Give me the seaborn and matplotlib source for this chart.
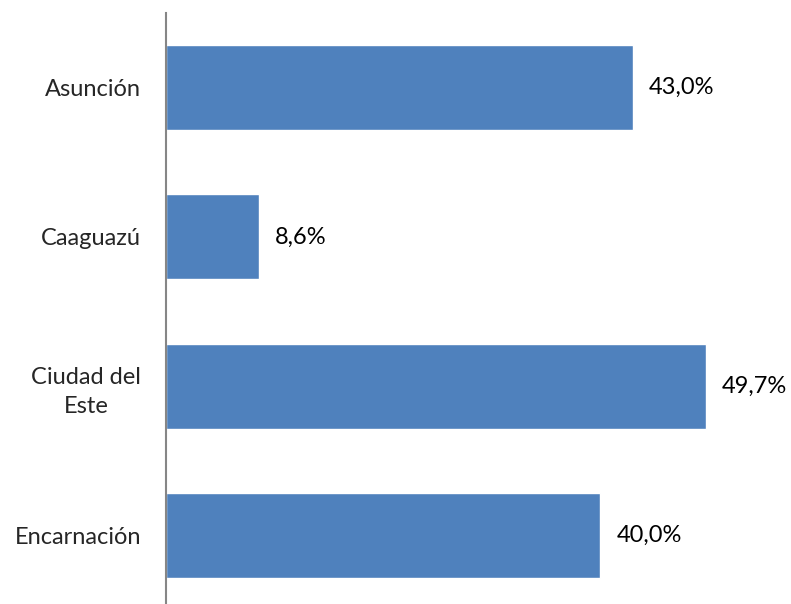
import matplotlib
matplotlib.use("Agg")
import matplotlib.pyplot as plt
import seaborn as sns
import pandas as pd

cities = ["Asunción", "Caaguazú", "Ciudad del\nEste", "Encarnación"]
shares = [43.0, 8.6, 49.7, 40.0]
value_labels = ["43,0%", "8,6%", "49,7%", "40,0%"]

sns.set_style("white")
plt.rcParams["font.family"] = ["Lato", "DejaVu Sans"]

df = pd.DataFrame({"ciudad": cities, "porcentaje": shares})

fig = plt.figure(figsize=(7.91, 6.04), dpi=100)
ax = fig.add_axes([166 / 791, 0.0, 651.6 / 791, 591 / 604])

sns.barplot(data=df, x="porcentaje", y="ciudad", orient="h",
            color="#4F81BD", saturation=1, width=0.57, ax=ax)

ax.set_xlim(0, 60)
ax.set_ylim(3.46, -0.5)

for i, (v, lab) in enumerate(zip(shares, value_labels)):
    ax.annotate(lab, xy=(v, i), xytext=(11.5, 0), textcoords="offset points",
                va="center", ha="left", fontsize=17, color="#000000")

ax.set_xlabel("")
ax.set_ylabel("")
ax.set_xticks([])
ax.tick_params(axis="y", length=0, pad=18, labelsize=17)
for t in ax.get_yticklabels():
    t.set_multialignment("center")
    t.set_linespacing(1.45)

for s in ["top", "right", "bottom"]:
    ax.spines[s].set_visible(False)
ax.spines["left"].set_color("#868686")
ax.spines["left"].set_linewidth(1.5)

fig.savefig("out.png", dpi=100)
